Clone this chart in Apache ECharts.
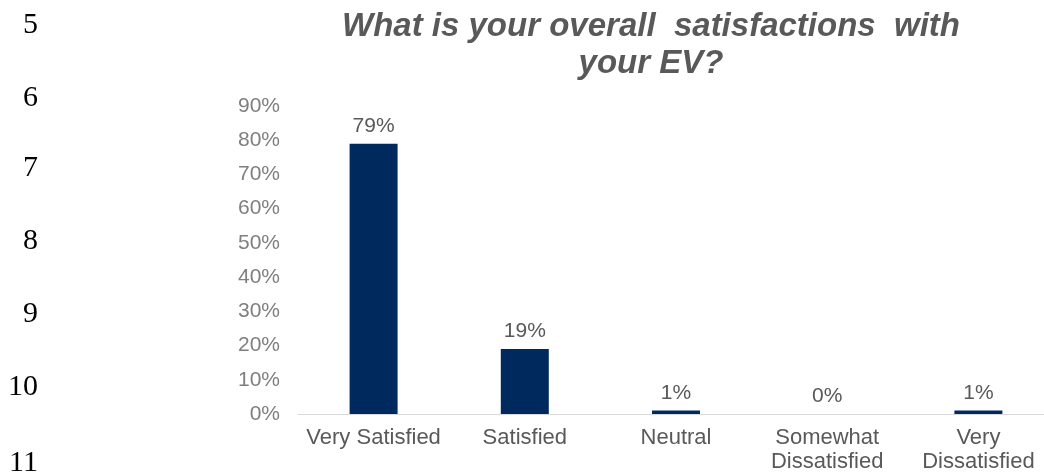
<!DOCTYPE html>
<html>
<head>
<meta charset="utf-8">
<script src="https://cdn.jsdelivr.net/npm/echarts@6/dist/echarts.min.js"></script>
<style>
  html, body { margin: 0; padding: 0; background: #fff; }
  #satisfactionChart { width: 1044px; height: 472px; }
</style>
</head>
<body>
<div id="satisfactionChart"></div>
<script>
  // survey answers
  const categories = ['Very Satisfied', 'Satisfied', 'Neutral', 'Somewhat\nDissatisfied', 'Very\nDissatisfied'];
  const shares = [79, 19, 1, 0, 1];

  // document line numbers down the left margin
  const lineNumbers = ['5', '6', '7', '8', '9', '10', '11'];
  const lineNumberTop = [25, 98, 168, 241, 314, 387, 463];

  const myChart = echarts.init(document.getElementById('satisfactionChart'));

  const margin = lineNumbers.map((n, i) => ({
    type: 'text',
    style: {
      text: n,
      x: 38,
      y: lineNumberTop[i],
      textAlign: 'right',
      textVerticalAlign: 'middle',
      font: '30px "Liberation Serif", serif',
      fill: '#000',
    },
  }));

  const option = {
    animation: false,
    textStyle: { fontFamily: '"Liberation Sans", Arial, sans-serif' },
    title: {
      text: 'What is your overall  satisfactions  with\nyour EV?',
      left: 646,
      top: 3,
      textAlign: 'center',
      textStyle: {
        fontSize: 33,
        fontStyle: 'italic',
        fontWeight: 'bold',
        color: '#595959',
        lineHeight: 37,
      },
    },
    graphic: margin,
    grid: {
      left: 298,
      right: -10,
      top: 106,
      bottom: 58,
      outerBoundsMode: 'none',
      containLabel: false,
    },
    xAxis: {
      type: 'category',
      data: categories,
      axisLine: { lineStyle: { color: '#d9d9d9', width: 1 } },
      axisTick: { show: false },
      axisLabel: {
        color: '#595959',
        fontSize: 22,
        margin: 12,
        lineHeight: 24,
        interval: 0,
      },
    },
    yAxis: {
      type: 'value',
      min: 0,
      max: 90,
      interval: 10,
      splitLine: { show: false },
      axisLine: { show: false },
      axisTick: { show: false },
      axisLabel: {
        formatter: '{value}%',
        color: '#7f7f7f',
        fontSize: 21,
        margin: 18,
      },
    },
    series: [{
      type: 'bar',
      data: shares,
      barWidth: 48,
      itemStyle: { color: '#002a5e' },
      label: {
        show: true,
        position: 'top',
        distance: 7,
        formatter: '{c}%',
        color: '#595959',
        fontSize: 21,
      },
    }],
  };
  myChart.setOption(option);
</script>
</body>
</html>
